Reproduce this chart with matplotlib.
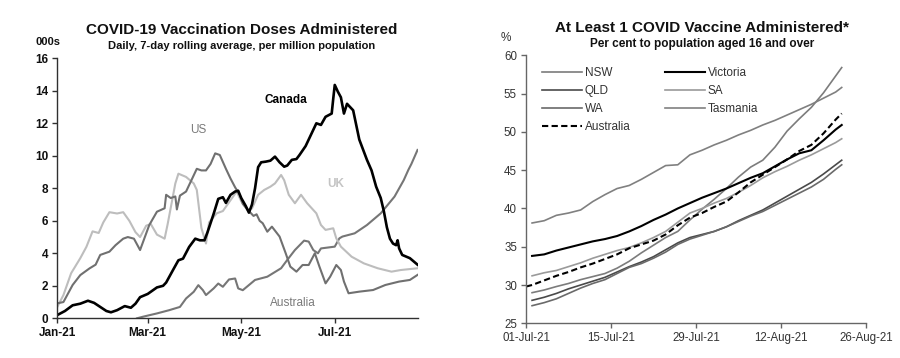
import matplotlib
matplotlib.use('Agg')
import matplotlib.pyplot as plt
import matplotlib.dates as mdates
import pandas as pd

plt.rcParams['font.family'] = ['Liberation Sans', 'DejaVu Sans']

# ---------------- Left chart data (days since 1 Jan 2021, '000s per million) -------------
canada_days = [0, 5, 10, 15, 20, 24, 28, 32, 35, 39, 44, 48, 51, 54, 59, 65, 69, 71, 76, 79,
               82, 86, 90, 93, 96, 98, 102, 105, 108, 110, 113, 116, 118, 120, 123, 125, 127,
               129, 131, 133, 136, 139, 142, 145, 148, 150, 153, 156, 158, 162, 166, 169, 172,
               175, 177, 179, 180, 181, 183, 185, 187, 189, 191, 193, 197, 202, 205, 208, 211,
               213, 215, 217, 219, 221, 222, 223, 225, 230, 235]
canada_vals = [0.2, 0.45, 0.8, 0.9, 1.08, 0.95, 0.7, 0.45, 0.37, 0.5, 0.75, 0.65, 0.9, 1.3, 1.5,
               1.9, 2.0, 2.2, 3.06, 3.57, 3.67, 4.39, 4.9, 4.8, 4.8, 5.3, 6.43, 7.35, 7.45, 7.1,
               7.6, 7.8, 7.85, 7.4, 6.9, 6.5, 7.0, 8.0, 9.3, 9.6, 9.64, 9.7, 9.95, 9.6, 9.33, 9.4,
               9.75, 9.8, 10.05, 10.6, 11.4, 12.0, 11.9, 12.4, 12.5, 12.6, 13.5, 14.36, 13.95,
               13.6, 12.6, 13.2, 13.0, 12.8, 11.0, 9.75, 9.1, 8.1, 7.4, 6.6, 5.6, 4.9, 4.6, 4.5,
               4.8, 4.3, 3.9, 3.7, 3.3]

us_days = [0, 4, 10, 15, 21, 25, 28, 34, 38, 43, 46, 50, 54, 60, 65, 70, 71, 74, 77, 78, 80,
           84, 88, 91, 94, 97, 100, 103, 106, 110, 113, 116, 119, 121, 125, 128, 130, 132, 134,
           137, 140, 145, 149, 152, 156, 160, 164, 168, 171, 175, 178, 182, 185, 187, 190, 197,
           206, 214, 223, 230, 235]
us_vals = [0.92, 1.0, 2.05, 2.66, 3.07, 3.3, 3.9, 4.1, 4.5, 4.9, 5.0, 4.9, 4.2, 5.74, 6.56,
           6.77, 7.6, 7.4, 7.5, 6.7, 7.55, 7.8, 8.6, 9.2, 9.1, 9.1, 9.5, 10.15, 10.05, 9.2, 8.6,
           8.06, 7.6, 7.04, 6.6, 6.3, 6.4, 6.0, 5.85, 5.33, 5.64, 5.03, 4.0, 3.18, 2.87, 3.28,
           3.28, 4.0, 3.18, 2.15, 2.56, 3.28, 2.97, 2.26, 1.54, 1.64, 1.74, 2.05, 2.26, 2.36,
           2.67]

uk_days = [0, 4, 9, 15, 19, 23, 27, 30, 34, 39, 43, 47, 51, 54, 58, 61, 65, 70, 72, 74, 77,
           79, 84, 89, 91, 94, 97, 99, 104, 108, 114, 117, 120, 124, 127, 131, 135, 139, 142,
           146, 148, 151, 155, 159, 163, 169, 172, 175, 180, 182, 185, 192, 200, 209, 218, 224,
           235]
uk_vals = [0.7, 1.43, 2.77, 3.7, 4.4, 5.35, 5.25, 5.9, 6.53, 6.45, 6.53, 6.0, 5.3, 5.0, 5.7,
           5.8, 5.15, 4.9, 5.8, 6.8, 8.3, 8.9, 8.7, 8.3, 7.9, 5.56, 4.6, 5.9, 6.46, 6.6, 7.4, 7.8,
           7.2, 6.66, 6.76, 7.6, 7.9, 8.1, 8.3, 8.82, 8.5, 7.6, 7.08, 7.6, 7.08, 6.46, 5.74,
           5.44, 5.54, 4.92, 4.41, 3.79, 3.38, 3.08, 2.87, 2.97, 3.08]

aus_days = [52, 56, 65, 73, 80, 84, 89, 92, 95, 97, 102, 105, 108, 112, 116, 118, 121, 129,
            137, 146, 150, 155, 161, 164, 167, 170, 172, 181, 184, 186, 194, 202, 211, 220,
            226, 229, 231, 235]
aus_vals = [0.0, 0.1, 0.3, 0.5, 0.7, 1.22, 1.63, 2.04, 1.73, 1.43, 1.84, 2.14, 1.94, 2.39, 2.45,
            1.84, 1.73, 2.36, 2.56, 3.08, 3.59, 4.2, 4.78, 4.72, 4.2, 4.0, 4.3, 4.41, 4.92, 5.03,
            5.23, 5.74, 6.46, 7.49, 8.5, 9.13, 9.5, 10.36]

left_yticks = [0, 2, 4, 6, 8, 10, 12, 14, 16]

# ---------------- Right chart data (days since 1 Jul 2021, % of 16+) ----------------------
state_days = [1, 3, 5, 7, 9, 11, 13, 15, 17, 19, 21, 23, 25, 27, 29, 31, 33, 35, 37, 39, 41,
              43, 45, 47, 49, 51, 52]
nsw = [29.0, 29.35, 29.8, 30.2, 30.7, 31.1, 31.5, 32.2, 33.1, 34.2, 35.2, 36.2, 37.0, 38.5,
       39.9, 41.2, 42.6, 44.1, 45.4, 46.3, 48.0, 50.1, 51.7, 53.2, 55.1, 57.3, 58.4]
victoria = [33.8, 34.0, 34.5, 34.9, 35.3, 35.7, 36.0, 36.4, 37.0, 37.7, 38.5, 39.2, 40.0, 40.7,
            41.4, 42.0, 42.6, 43.3, 44.0, 44.6, 45.5, 46.4, 47.2, 47.6, 48.9, 50.3, 50.9]
qld = [28.0, 28.4, 28.9, 29.5, 30.0, 30.5, 31.0, 31.7, 32.4, 33.0, 33.7, 34.6, 35.5, 36.2,
       36.6, 37.0, 37.6, 38.4, 39.1, 39.8, 40.7, 41.6, 42.5, 43.4, 44.5, 45.7, 46.3]
sa = [31.2, 31.6, 31.9, 32.4, 32.9, 33.5, 34.0, 34.5, 34.9, 35.5, 36.2, 37.0, 38.2, 39.4, 40.0,
      40.7, 41.3, 42.1, 43.0, 44.0, 44.8, 45.5, 46.3, 47.0, 47.8, 48.6, 49.1]
wa = [27.3, 27.7, 28.2, 28.9, 29.6, 30.2, 30.7, 31.5, 32.3, 32.8, 33.5, 34.3, 35.3, 36.0, 36.5,
      37.0, 37.6, 38.3, 39.0, 39.6, 40.4, 41.2, 42.0, 42.8, 43.8, 45.1, 45.7]
tasmania = [38.1, 38.4, 39.1, 39.4, 39.8, 40.9, 41.8, 42.6, 43.0, 43.8, 44.7, 45.6, 45.7, 47.0,
            47.6, 48.3, 48.9, 49.6, 50.2, 50.9, 51.5, 52.2, 52.9, 53.6, 54.4, 55.2, 55.8]
australia_days = [0] + state_days
australia = [29.8, 30.0, 30.6, 31.2, 31.7, 32.3, 32.8, 33.4, 34.0, 34.8, 35.3, 35.8, 36.6, 37.8,
             38.8, 39.4, 40.2, 40.9, 42.1, 43.4, 44.4, 45.4, 46.4, 47.5, 48.3, 49.8, 51.6, 52.4]

right_yticks = [25, 30, 35, 40, 45, 50, 55, 60]


def to_dates(base, days):
    return [pd.Timestamp(base) + pd.Timedelta(days=d) for d in days]


fig = plt.figure(figsize=(9, 3.58), dpi=100)
W, H = 900.0, 358.0

# ================= Left chart =================
ax1 = fig.add_axes([57.3 / W, 1 - 318.3 / H, (418.3 - 57.3) / W, (318.3 - 58.3) / H])
b1 = '2021-01-01'
ax1.plot(to_dates(b1, aus_days), aus_vals, color='#767676', lw=1.5)
ax1.plot(to_dates(b1, uk_days), uk_vals, color='#bdbdbd', lw=1.5)
ax1.plot(to_dates(b1, us_days), us_vals, color='#707070', lw=1.5)
ax1.plot(to_dates(b1, canada_days), canada_vals, color='#000000', lw=1.9)

ax1.set_xlim(pd.Timestamp(b1), pd.Timestamp(b1) + pd.Timedelta(days=235.5))
ax1.set_ylim(0, 16)
ax1.set_yticks(left_yticks)
ax1.xaxis.set_major_locator(mdates.MonthLocator(bymonth=[1, 3, 5, 7]))
ax1.xaxis.set_major_formatter(mdates.DateFormatter('%b-%y'))
for s in ['top', 'right']:
    ax1.spines[s].set_visible(False)
for s in ['left', 'bottom']:
    ax1.spines[s].set_color('#303030')
    ax1.spines[s].set_linewidth(1.0)
ax1.tick_params(axis='both', direction='out', length=3.5, width=1.0, color='#303030',
                labelsize=8.5, labelcolor='#111111', pad=3)
for lab in ax1.get_xticklabels() + ax1.get_yticklabels():
    lab.set_fontweight('bold')

fig.text(242 / W, 1 - 30 / H, 'COVID-19 Vaccination Doses Administered', ha='center',
         va='center', fontsize=11, fontweight='bold', color='#111111')
fig.text(242 / W, 1 - 46 / H, 'Daily, 7-day rolling average, per million population',
         ha='center', va='center', fontsize=8, fontweight='bold', color='#111111')
fig.text(48 / W, 1 - 42 / H, '000s', ha='center', va='center', fontsize=8,
         fontweight='bold', color='#111111')
fig.text(286 / W, 1 - 100 / H, 'Canada', ha='center', va='center', fontsize=8.5,
         fontweight='bold', color='#000000')
fig.text(198 / W, 1 - 130 / H, 'US', ha='center', va='center', fontsize=8.5,
         color='#7a7a7a')
fig.text(336 / W, 1 - 184 / H, 'UK', ha='center', va='center', fontsize=8.5,
         fontweight='bold', color='#c4c4c4')
fig.text(293 / W, 1 - 302.7 / H, 'Australia', ha='center', va='center', fontsize=8.5,
         color='#7a7a7a')

# ================= Right chart =================
ax2 = fig.add_axes([526 / W, 1 - 323.3 / H, (866 - 526) / W, (323.3 - 55.3) / H])
b2 = '2021-07-01'
l_nsw, = ax2.plot(to_dates(b2, state_days), nsw, color='#7c7c7c', lw=1.2, label='NSW')
l_qld, = ax2.plot(to_dates(b2, state_days), qld, color='#4a4a4a', lw=1.2, label='QLD')
l_wa, = ax2.plot(to_dates(b2, state_days), wa, color='#6a6a6a', lw=1.2, label='WA')
l_sa, = ax2.plot(to_dates(b2, state_days), sa, color='#9a9a9a', lw=1.2, label='SA')
l_tas, = ax2.plot(to_dates(b2, state_days), tasmania, color='#808080', lw=1.2, label='Tasmania')
l_vic, = ax2.plot(to_dates(b2, state_days), victoria, color='#000000', lw=1.5, label='Victoria')
l_aus, = ax2.plot(to_dates(b2, australia_days), australia, color='#000000', lw=1.5,
                  ls=(0, (3, 1.6)), label='Australia')

ax2.set_xlim(pd.Timestamp(b2), pd.Timestamp('2021-08-26'))
ax2.set_ylim(25, 60)
ax2.set_yticks(right_yticks)
ax2.set_xticks(pd.date_range('2021-07-01', '2021-08-26', freq='14D'))
ax2.xaxis.set_major_formatter(mdates.DateFormatter('%d-%b-%y'))
for s in ['top', 'right']:
    ax2.spines[s].set_visible(False)
for s in ['left', 'bottom']:
    ax2.spines[s].set_color('#666666')
    ax2.spines[s].set_linewidth(1.0)
ax2.tick_params(axis='both', direction='out', length=3.5, width=1.0, color='#666666',
                labelsize=8.3, labelcolor='#333333', pad=3)

leg = ax2.legend(handles=[l_nsw, l_qld, l_wa, l_aus, l_vic, l_sa, l_tas], ncol=2,
                 frameon=False, loc='upper left',
                 bbox_to_anchor=(541.7 / W, 1 - 67 / H), bbox_transform=fig.transFigure,
                 borderaxespad=0, borderpad=0, fontsize=8.5, handlelength=3.4,
                 handletextpad=0.25, columnspacing=2.9, labelspacing=0.5)
for t in leg.get_texts():
    t.set_color('#333333')

fig.text(701.7 / W, 1 - 28 / H, 'At Least 1 COVID Vaccine Administered*', ha='center',
         va='center', fontsize=11, fontweight='bold', color='#111111')
fig.text(701.7 / W, 1 - 44 / H, 'Per cent to population aged 16 and over', ha='center',
         va='center', fontsize=8.5, fontweight='bold', color='#111111')
fig.text(506 / W, 1 - 38 / H, '%', ha='center', va='center', fontsize=8.5, color='#333333')

fig.savefig('out.png', dpi=100)
